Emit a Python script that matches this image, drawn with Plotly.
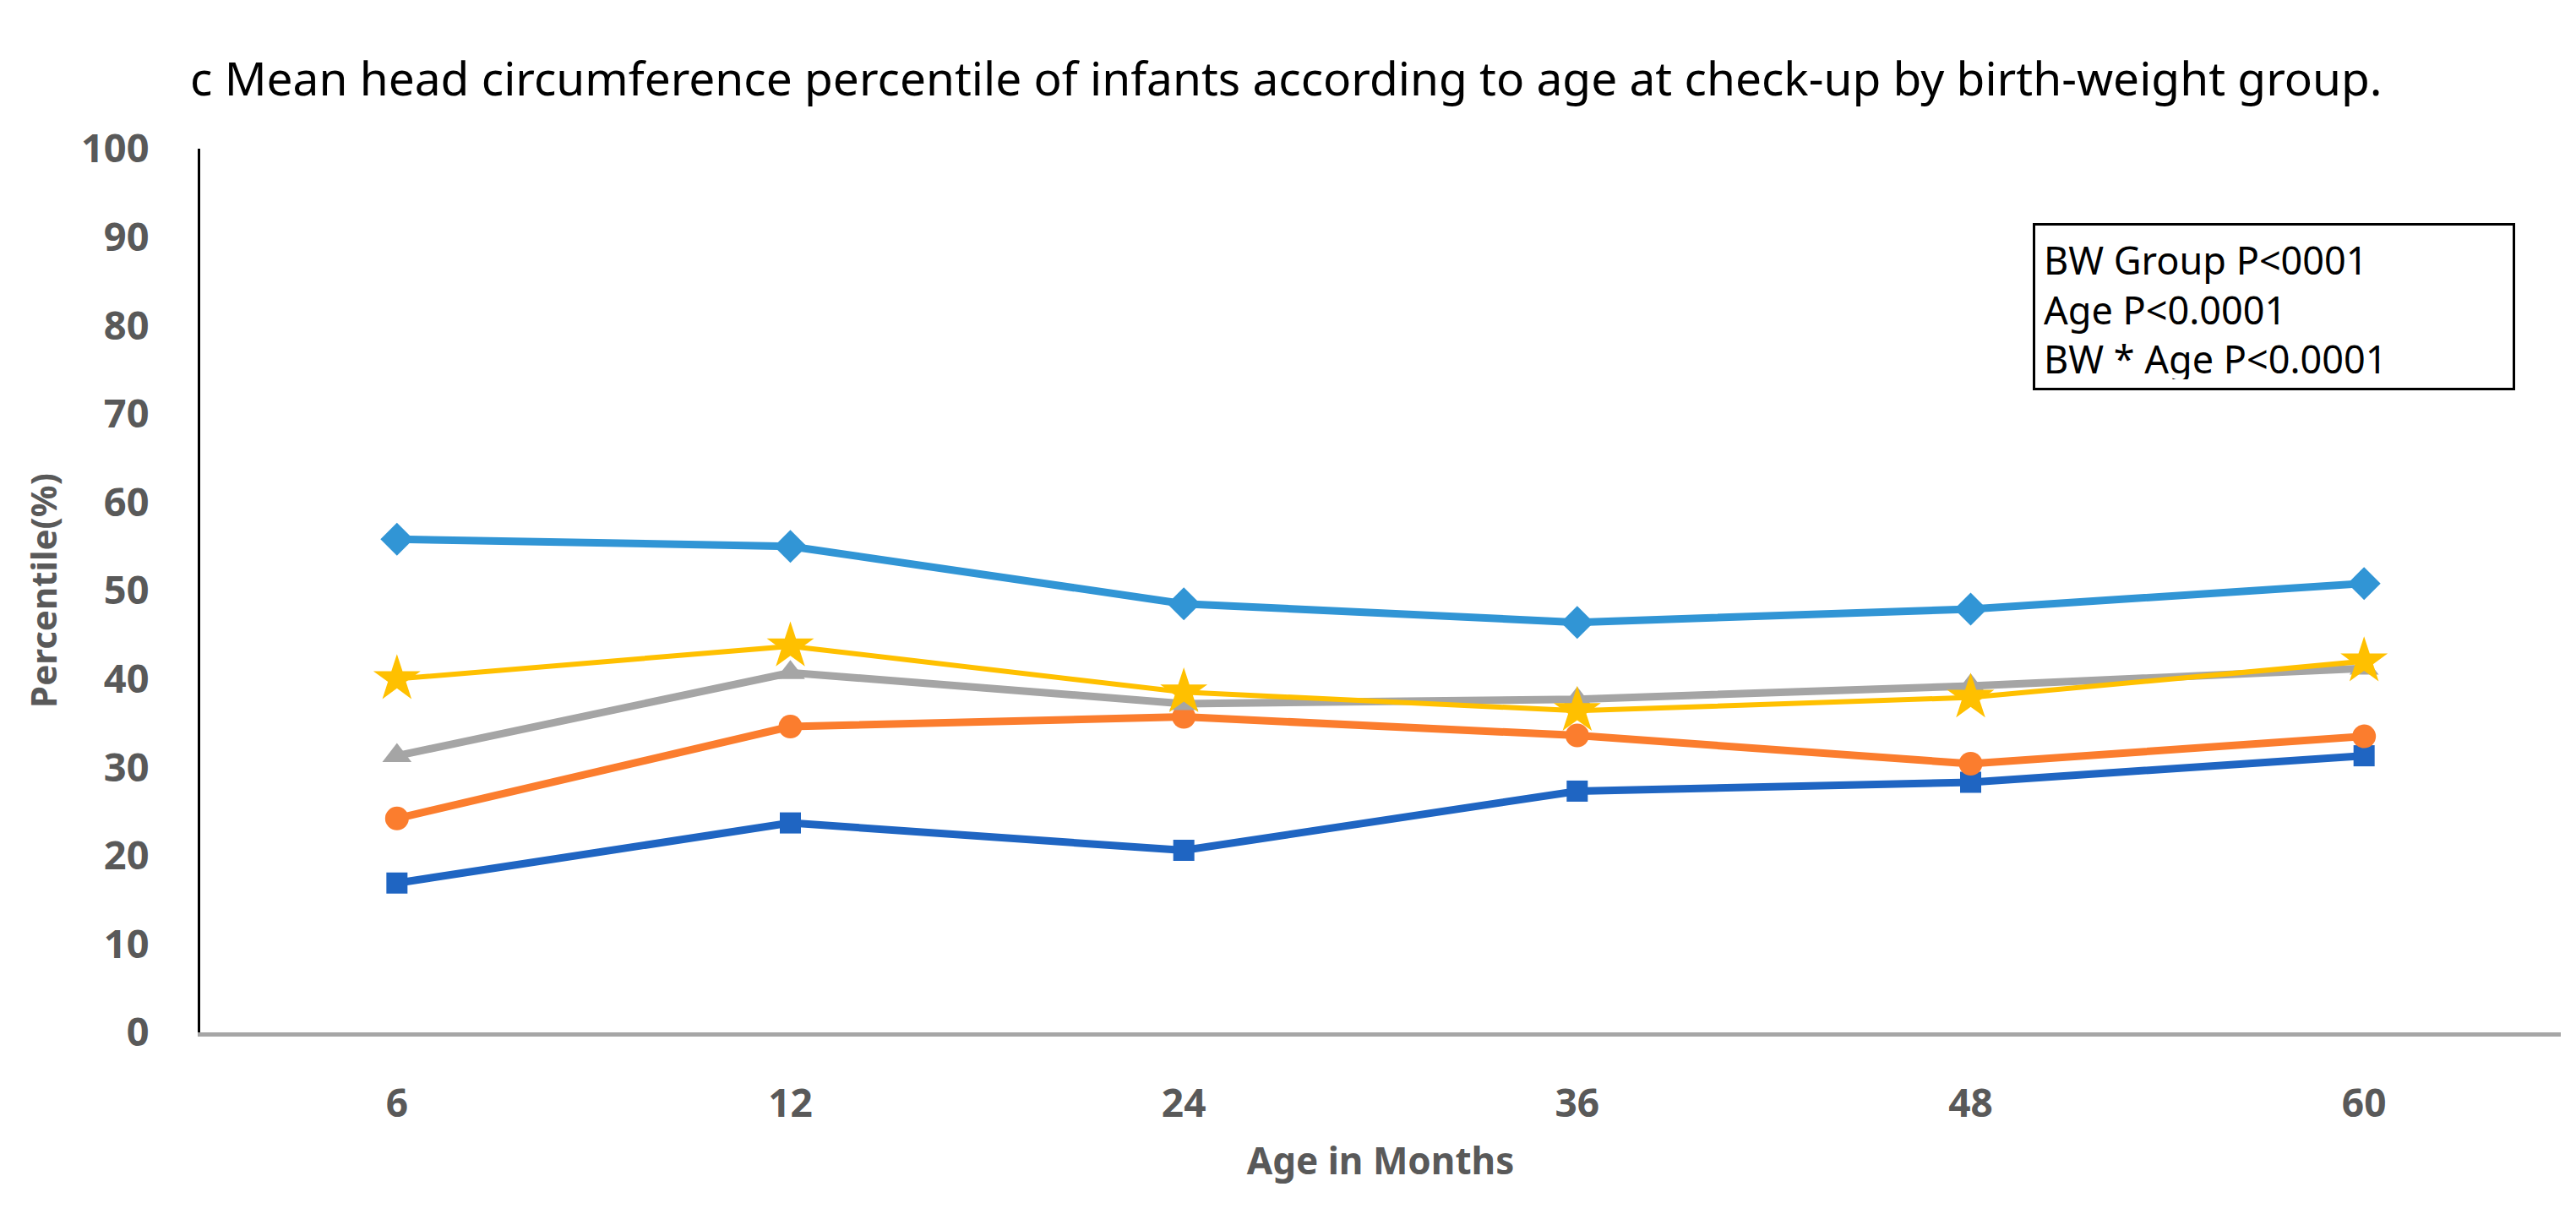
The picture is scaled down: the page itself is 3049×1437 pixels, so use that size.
import plotly.graph_objects as go

ages = ["6", "12", "24", "36", "48", "60"]

series_names = ["BW group A", "BW group B", "BW group C", "BW group D", "BW group E"]
light_blue = [55.8, 55.0, 48.5, 46.4, 47.9, 50.8]
yellow = [40.0, 43.7, 38.5, 36.4, 37.9, 42.0]
gray = [31.3, 40.7, 37.2, 37.7, 39.2, 41.2]
orange = [24.2, 34.6, 35.7, 33.6, 30.4, 33.5]
dark_blue = [16.9, 23.7, 20.6, 27.3, 28.3, 31.3]

y_ticks = [0, 10, 20, 30, 40, 50, 60, 70, 80, 90, 100]

title_text = "c Mean head circumference percentile of infants according to age at check-up by birth-weight group."
stats_text = "BW Group P<0001<br>Age P<0.0001<br>BW * Age P<0.0001"

W, H = 3049, 1437
L, R, T, B = 229, 26, 168, 223

styles = [
    (series_names[0], light_blue, "#3195D5", "diamond", 30, 9),
    (series_names[1], dark_blue, "#1F65C2", "square", 25, 9),
    (series_names[2], orange, "#FB7D2E", "circle", 28, 9),
    (series_names[3], gray, "#A5A5A5", "triangle-up", 30, 9),
    (series_names[4], yellow, "#FFC000", "star", 42, 6),
]

fig = go.Figure()
for name, vals, color, sym, msize, lw in styles:
    fig.add_trace(go.Scatter(
        x=ages, y=vals, name=name, mode="lines+markers",
        line=dict(color=color, width=lw),
        marker=dict(symbol=sym, size=msize, color=color, line=dict(width=0)),
    ))

fig.update_layout(
    width=W, height=H,
    margin=dict(l=L, r=R, t=T, b=B),
    paper_bgcolor="white", plot_bgcolor="white",
    showlegend=False,
    font=dict(family="Noto Sans", color="#595959"),
    title=dict(
        text=title_text,
        x=217 / W, xanchor="left", xref="container",
        y=1 - 86 / H, yanchor="middle", yref="container",
        pad=dict(l=0, r=0, t=0, b=0),
        font=dict(size=55, color="black", family="Noto Sans"),
    ),
)

fig.update_xaxes(
    type="category", range=[-0.5, 5.5],
    tickvals=ages, ticktext=[f"<b>{a}</b>" for a in ages],
    showline=True, linecolor="#A6A6A6", linewidth=5,
    showgrid=False, zeroline=False, ticks="",
    tickfont=dict(size=46, color="#595959", family="Noto Sans"),
    ticklabelstandoff=40,
    title=dict(text="<b>Age in Months</b>", font=dict(size=44, color="#595959"), standoff=26),
)
fig.update_yaxes(
    range=[0, 100], tickvals=y_ticks, ticktext=[f"<b>{v}</b>" for v in y_ticks],
    showline=True, linecolor="black", linewidth=3,
    showgrid=False, zeroline=False, ticks="",
    tickfont=dict(size=47, color="#595959", family="Noto Sans"),
    ticklabelstandoff=48,
    title=dict(text="<b>Percentile(%)</b>", font=dict(size=42, color="#595959"), standoff=16),
)

fig.add_annotation(
    xref="paper", yref="paper",
    x=(2398 - L) / (W - L - R), y=1 - (256 - T) / (H - T - B),
    xanchor="left", yanchor="top",
    text=stats_text, showarrow=False, align="left",
    font=dict(size=45, color="black", family="Noto Sans"),
    bordercolor="black", borderwidth=3, borderpad=10,
    bgcolor="white", width=545, height=172, valign="top",
)

fig.write_html("out.html")
